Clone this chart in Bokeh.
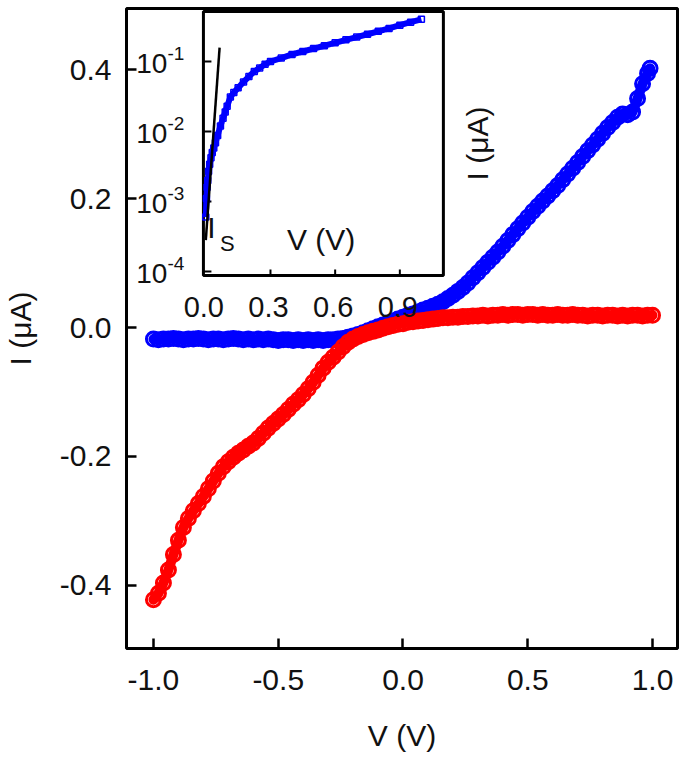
import math
from bokeh.plotting import figure
from bokeh.models import Range1d, LogScale, FixedTicker, NumeralTickFormatter, Label
from bokeh.core.properties import value
from bokeh.embed import file_html
from bokeh.resources import INLINE

FONT = "Liberation Sans"

# ---------------- main panel data (V in V, I in uA) ----------------
RED_V = [-1.00, -0.98, -0.96, -0.94, -0.92, -0.90, -0.88, -0.86, -0.84, -0.82,
         -0.80, -0.78, -0.76, -0.74, -0.72, -0.70, -0.68, -0.66, -0.64, -0.62,
         -0.60, -0.58, -0.56, -0.54, -0.52, -0.50, -0.48, -0.46, -0.44, -0.42,
         -0.40, -0.38, -0.36, -0.34, -0.32, -0.30, -0.28, -0.26, -0.24, -0.22,
         -0.20, -0.18, -0.16, -0.14, -0.12, -0.10, -0.08, -0.06, -0.04, -0.02,
         0.00, 0.02, 0.04, 0.06, 0.08, 0.10, 0.12, 0.14, 0.16, 0.18,
         0.20, 0.22, 0.24, 0.26, 0.28, 0.30, 0.32, 0.34, 0.36, 0.38,
         0.40, 0.42, 0.44, 0.46, 0.48, 0.50, 0.52, 0.54, 0.56, 0.58,
         0.60, 0.62, 0.64, 0.66, 0.68, 0.70, 0.72, 0.74, 0.76, 0.78,
         0.80, 0.82, 0.84, 0.86, 0.88, 0.90, 0.92, 0.94, 0.96, 0.98, 1.00]
RED_I = [-0.422, -0.412, -0.396, -0.376, -0.352, -0.330, -0.310, -0.296, -0.284, -0.273,
         -0.262, -0.250, -0.238, -0.226, -0.216, -0.208, -0.201, -0.195, -0.190, -0.184,
         -0.179, -0.172, -0.164, -0.156, -0.149, -0.142, -0.135, -0.127, -0.119, -0.112,
         -0.104, -0.095, -0.085, -0.074, -0.063, -0.054, -0.046, -0.038, -0.030, -0.023,
         -0.018, -0.014, -0.011, -0.008, -0.006, -0.004, -0.001, 0.001, 0.003, 0.005,
         0.006, 0.008, 0.009, 0.010, 0.011, 0.012, 0.013, 0.014, 0.015, 0.015,
         0.016, 0.016, 0.017, 0.017, 0.018, 0.018, 0.019, 0.018, 0.019, 0.019,
         0.020, 0.019, 0.020, 0.020, 0.019, 0.020, 0.020, 0.019, 0.020, 0.019,
         0.019, 0.020, 0.019, 0.019, 0.020, 0.019, 0.019, 0.018, 0.019, 0.019,
         0.018, 0.019, 0.019, 0.018, 0.019, 0.018, 0.019, 0.019, 0.018, 0.019, 0.019]

BLUE_V = [-1.00, -0.98, -0.96, -0.94, -0.92, -0.90, -0.88, -0.86, -0.84, -0.82,
          -0.80, -0.78, -0.76, -0.74, -0.72, -0.70, -0.68, -0.66, -0.64, -0.62,
          -0.60, -0.58, -0.56, -0.54, -0.52, -0.50, -0.48, -0.46, -0.44, -0.42,
          -0.40, -0.38, -0.36, -0.34, -0.32, -0.30, -0.28, -0.26, -0.24, -0.22,
          -0.20, -0.18, -0.16, -0.14, -0.12, -0.10, -0.08, -0.06, -0.04, -0.02,
          0.00, 0.02, 0.04, 0.06, 0.08, 0.10, 0.12, 0.14, 0.16, 0.18,
          0.20, 0.22, 0.24, 0.26, 0.28, 0.30, 0.32, 0.34, 0.36, 0.38,
          0.40, 0.42, 0.44, 0.46, 0.48, 0.50, 0.52, 0.54, 0.56, 0.58,
          0.60, 0.62, 0.64, 0.66, 0.68, 0.70, 0.72, 0.74, 0.76, 0.78,
          0.80, 0.82, 0.84, 0.86, 0.88, 0.90, 0.92, 0.94, 0.96, 0.98, 0.99]
BLUE_I = [-0.018, -0.019, -0.018, -0.018, -0.017, -0.018, -0.019, -0.018, -0.018, -0.017,
          -0.018, -0.019, -0.018, -0.018, -0.019, -0.018, -0.017, -0.018, -0.019, -0.018,
          -0.019, -0.018, -0.019, -0.018, -0.019, -0.020, -0.019, -0.019, -0.020, -0.019,
          -0.020, -0.019, -0.020, -0.019, -0.020, -0.019, -0.019, -0.018, -0.017, -0.015,
          -0.013, -0.011, -0.008, -0.005, -0.002, 0.001, 0.004, 0.007, 0.010, 0.013,
          0.016, 0.019, 0.021, 0.024, 0.027, 0.030, 0.033, 0.036, 0.040, 0.045,
          0.050, 0.056, 0.062, 0.069, 0.077, 0.085, 0.093, 0.101, 0.109, 0.117,
          0.126, 0.135, 0.144, 0.153, 0.162, 0.171, 0.180, 0.188, 0.196, 0.204,
          0.212, 0.220, 0.229, 0.238, 0.247, 0.256, 0.265, 0.274, 0.283, 0.292,
          0.301, 0.310, 0.318, 0.326, 0.331, 0.330, 0.334, 0.355, 0.378, 0.394, 0.402]

X_TICKS = [-1.0, -0.5, 0.0, 0.5, 1.0]
Y_TICKS = [-0.4, -0.2, 0.0, 0.2, 0.4]

# ---------------- inset data (log current) ----------------
INSET_V = [0.000, 0.003, 0.006, 0.009, 0.013, 0.018, 0.024, 0.030, 0.037, 0.045,
           0.055, 0.068, 0.080, 0.090, 0.099, 0.114, 0.130, 0.150, 0.175, 0.200,
           0.225, 0.250, 0.275, 0.300, 0.350, 0.400, 0.450, 0.500, 0.550, 0.600,
           0.650, 0.700, 0.750, 0.800, 0.850, 0.900, 0.950, 1.000]
INSET_I = [0.0006, 0.0011, 0.0016, 0.0020, 0.0027, 0.0034, 0.0042, 0.0050, 0.0058, 0.0069,
           0.0088, 0.0120, 0.0155, 0.0190, 0.0230, 0.031, 0.036, 0.042, 0.051, 0.061,
           0.072, 0.081, 0.091, 0.100, 0.112, 0.126, 0.139, 0.153, 0.168, 0.185,
           0.204, 0.223, 0.245, 0.270, 0.297, 0.330, 0.365, 0.400]
FIT_V = [0.000, 0.064]
FIT_I = [0.00028, 0.158]

INSET_V_LIM = [-0.011, 1.102]
INSET_I_LIM = [10 ** -4.057, 10 ** -0.286]
INSET_X_TICKS = [0.0, 0.3, 0.6, 0.9]
INSET_X_LABELS = ["0.0", "0.3", "0.6", "0.9"]
INSET_Y_TICKS = [1e-4, 1e-3, 1e-2, 1e-1]
INSET_Y_BASE = ["10", "10", "10", "10"]
INSET_Y_EXP = ["-4", "-3", "-2", "-1"]

assert len(RED_V) == len(RED_I) and len(BLUE_V) == len(BLUE_I) and len(INSET_V) == len(INSET_I)

p = figure(frame_width=551, frame_height=640,
           x_range=Range1d(-1.108, 1.100), y_range=Range1d(-0.4977, 0.4946),
           output_backend="svg", toolbar_location=None,
           min_border_left=118, min_border_top=8, min_border_right=3, min_border_bottom=100)

# extra ranges mapping the inset box inside the same frame
p.extra_x_ranges = {"ix": Range1d(-0.3678, 2.1879)}
p.extra_y_ranges = {"iy": Range1d(10 ** -9.3857, 10 ** -0.2429)}
p.extra_y_scales = {"iy": LogScale()}

p.xgrid.visible = False
p.ygrid.visible = False
p.outline_line_color = "black"
p.outline_line_width = 3
p.outline_line_alpha = 1.0
p.background_fill_color = "white"
p.border_fill_color = "white"

for ax in (p.xaxis[0], p.yaxis[0]):
    ax.axis_line_color = None
    ax.major_tick_in = 10
    ax.major_tick_out = 0
    ax.major_tick_line_width = 2.5
    ax.major_tick_line_color = "black"
    ax.minor_tick_line_color = None
    ax.major_label_text_font = FONT
    ax.major_label_text_font_size = "30px"
    ax.major_label_text_color = "#111111"
    ax.axis_label_text_font = FONT
    ax.axis_label_text_font_size = "30px"
    ax.axis_label_text_font_style = "normal"
    ax.axis_label_text_color = "#111111"
    ax.formatter = NumeralTickFormatter(format="0.0")

p.xaxis[0].ticker = FixedTicker(ticks=X_TICKS)
p.yaxis[0].ticker = FixedTicker(ticks=Y_TICKS)
p.xaxis[0].axis_label = "V (V)"
p.yaxis[0].axis_label = "I (\u03bcA)"
p.xaxis[0].major_label_standoff = 21
p.xaxis[0].axis_label_standoff = 26
p.yaxis[0].major_label_standoff = 15
p.yaxis[0].axis_label_standoff = 20

# main data: dense open-circle scans, blue first, red on top
p.line(BLUE_V, BLUE_I, line_color="#0000FF", line_width=10, line_join="round", line_cap="round")
p.scatter(BLUE_V, BLUE_I, marker="circle", size=14, fill_color=None,
          line_color="#0000FF", line_width=3)
p.line(RED_V, RED_I, line_color="#FF0000", line_width=10, line_join="round", line_cap="round")
p.scatter(RED_V, RED_I, marker="circle", size=14, fill_color=None,
          line_color="#FF0000", line_width=3)

# inset box
IR = dict(x_range_name="ix", y_range_name="iy")
p.quad(left=[INSET_V_LIM[0]], right=[INSET_V_LIM[1]], bottom=[INSET_I_LIM[0]], top=[INSET_I_LIM[1]],
       fill_color="white", line_color="black", line_width=3, **IR)
# inset ticks (inward)
p.ray(x=[INSET_V_LIM[0]] * len(INSET_Y_TICKS), y=INSET_Y_TICKS, length=8, angle=0,
      length_units="screen", line_color="black", line_width=2, **IR)
p.ray(x=INSET_X_TICKS[1:], y=[INSET_I_LIM[0]] * 3, length=6, angle=math.pi / 2,
      length_units="screen", line_color="black", line_width=2, **IR)

# inset data
p.line(INSET_V, INSET_I, line_color="#0000FF", line_width=6, **IR)
p.scatter(INSET_V, INSET_I, marker="square", size=6, fill_color=None,
          line_color="#0000FF", line_width=1.5, **IR)
p.line(FIT_V, FIT_I, line_color="black", line_width=2.5, **IR)

# inset tick labels
p.text(x=INSET_X_TICKS, y=[INSET_I_LIM[0]] * 4, text=INSET_X_LABELS, x_offset=-2, y_offset=32,
       text_align="center", text_baseline="middle", text_font=value(FONT),
       text_font_size="29px", text_color="#111111", **IR)
p.text(x=[INSET_V_LIM[0]] * 4, y=INSET_Y_TICKS, text=INSET_Y_BASE, x_offset=-36, y_offset=2,
       text_align="right", text_baseline="middle", text_font=value(FONT),
       text_font_size="28px", text_color="#111111", **IR)
p.text(x=[INSET_V_LIM[0]] * 4, y=INSET_Y_TICKS, text=INSET_Y_EXP, x_offset=-36, y_offset=-8,
       text_align="left", text_baseline="middle", text_font=value(FONT),
       text_font_size="19px", text_color="#111111", **IR)

# inset annotations
def lab(x, y, text, size, angle=0.0, xr="ix", yr="iy"):
    p.add_layout(Label(x=x, y=y, text=text, x_range_name=xr, y_range_name=yr,
                       text_font=FONT, text_font_size=size, text_color="#111111",
                       text_align="center", text_baseline="middle", angle=angle))

lab(0.535, 10 ** -3.543, "V (V)", "30px")
lab(0.026, 10 ** -3.371, "I", "30px")
lab(0.100, 10 ** -3.60, "S", "22px")
lab(1.26, 10 ** -2.171, "I (\u03bcA)", "30px", angle=math.pi / 2)

open("out.html", "w").write(file_html(p, INLINE))
